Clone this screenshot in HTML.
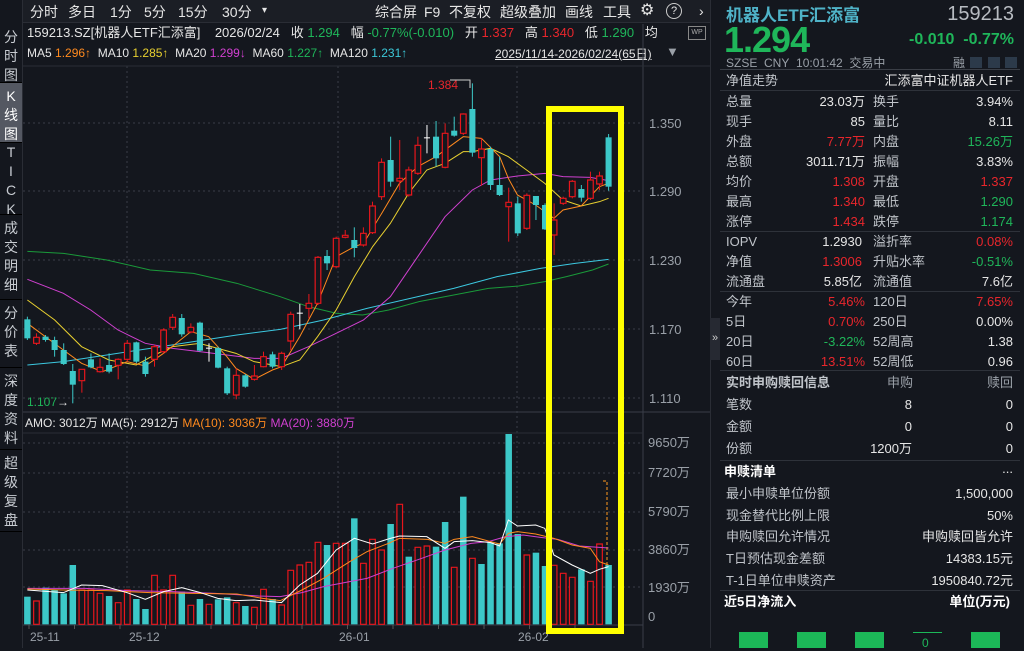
<!DOCTYPE html>
<html><head><meta charset="utf-8"><style>
*{margin:0;padding:0;box-sizing:border-box}
body{width:1024px;height:648px;background:#14171e;overflow:hidden;position:relative;font-family:"Liberation Sans","Noto Sans CJK SC",sans-serif;font-size:13px;line-height:16px;color:#d8d8d8}
.a{position:absolute;white-space:nowrap}
.g{color:#1fb65a}.r{color:#e8262c}.w{color:#e6e6e6}.gr{color:#9aa0a8}
.tab{position:absolute;left:0;width:22px;text-align:center;color:#c8ccd2;font-size:14px;line-height:19px;border-bottom:1px solid #000}
.rp .l{position:absolute;left:726px;color:#c0c4ca}
.rp .v{position:absolute;right:159px;text-align:right}
.rp .l2{position:absolute;left:873px;color:#c0c4ca}
.rp .v2{position:absolute;right:11px;text-align:right}
.hr{position:absolute;left:720px;width:300px;height:1px;background:#2e323a}
</style></head><body>
<div class="a" style="left:22px;top:0;width:688px;height:23px;background:#1b1e25;border-bottom:1px solid #2a2d35"></div>
<div class="a w" style="top:4px;left:30px;font-size:14px">分时</div>
<div class="a w" style="top:4px;left:68px;font-size:14px">多日</div>
<div class="a w" style="top:4px;left:110px;font-size:14px">1分</div>
<div class="a w" style="top:4px;left:144px;font-size:14px">5分</div>
<div class="a w" style="top:4px;left:178px;font-size:14px">15分</div>
<div class="a w" style="top:4px;left:222px;font-size:14px">30分</div>
<div class="a w" style="top:3px;left:262px;font-size:10px">▾</div>
<div class="a w" style="top:4px;left:375px;font-size:14px">综合屏</div>
<div class="a w" style="top:4px;left:424px;font-size:14px">F9</div>
<div class="a w" style="top:4px;left:449px;font-size:14px">不复权</div>
<div class="a w" style="top:4px;left:500px;font-size:14px">超级叠加</div>
<div class="a w" style="top:4px;left:565px;font-size:14px">画线</div>
<div class="a w" style="top:4px;left:603px;font-size:14px">工具</div>
<div class="a w" style="top:3px;left:640px;font-size:16px">⚙</div>
<div class="a w" style="top:3px;left:666px;width:16px;height:16px;border:1px solid #ccc;border-radius:50%;font-size:11px;text-align:center;line-height:14px">?</div>
<div class="a w" style="top:3px;left:699px;font-size:14px">›</div>
<div class="a" style="left:22px;top:0;width:1px;height:648px;background:#2a2d35"></div>
<div class="tab" style="top:24px;height:59px;padding-top:4px">分<br>时<br>图</div>
<div class="tab" style="top:83px;height:60px;background:#545862;padding-top:4px;color:#fff">K<br>线<br>图</div>
<div class="tab" style="top:143px;height:72px;padding-top:0">T<br>I<br>C<br>K</div>
<div class="tab" style="top:215px;height:85px;padding-top:4px">成<br>交<br>明<br>细</div>
<div class="tab" style="top:300px;height:68px;padding-top:4px">分<br>价<br>表</div>
<div class="tab" style="top:368px;height:82px;padding-top:4px">深<br>度<br>资<br>料</div>
<div class="tab" style="top:450px;height:82px;padding-top:4px">超<br>级<br>复<br>盘</div>
<div class="a w" style="top:25px;left:27px">159213.SZ[机器人ETF汇添富]&nbsp;&nbsp;&nbsp;&nbsp;2026/02/24&nbsp;&nbsp;&nbsp;收 <span class="g">1.294</span>&nbsp;&nbsp;&nbsp;幅 <span class="g">-0.77%(-0.010)</span>&nbsp;&nbsp;&nbsp;开 <span class="r">1.337</span>&nbsp;&nbsp;&nbsp;高 <span class="r">1.340</span>&nbsp;&nbsp;&nbsp;低 <span class="g">1.290</span>&nbsp;&nbsp;&nbsp;均</div>
<div class="a" style="top:45px;left:27px;font-size:12px;color:#e6e6e6">MA5 <span style="color:#ff8a1e">1.296↑</span>&nbsp; MA10 <span style="color:#e8d030">1.285↑</span>&nbsp; MA20 <span style="color:#d040d0">1.299↓</span>&nbsp; MA60 <span style="color:#1fb65a">1.227↑</span>&nbsp; MA120 <span style="color:#3cc8d8">1.231↑</span></div>
<div class="a w" style="top:46px;left:495px;font-size:12px;text-decoration:underline">2025/11/14-2026/02/24(65日)</div>
<div class="a gr" style="top:44px;left:666px;font-size:13px">▼</div>
<div class="a" style="top:26px;left:688px;width:18px;height:14px;border:1px solid #888;font-size:7px;line-height:12px;color:#aaa;text-align:center">WP</div>
<div class="a gr" style="top:116px;left:649px">1.350</div>
<div class="a gr" style="top:184px;left:649px">1.290</div>
<div class="a gr" style="top:253px;left:649px">1.230</div>
<div class="a gr" style="top:322px;left:649px">1.170</div>
<div class="a gr" style="top:391px;left:649px">1.110</div>
<div class="a gr" style="top:435px;left:648px">9650万</div>
<div class="a gr" style="top:465px;left:648px">7720万</div>
<div class="a gr" style="top:504px;left:648px">5790万</div>
<div class="a gr" style="top:542px;left:648px">3860万</div>
<div class="a gr" style="top:580px;left:648px">1930万</div>
<div class="a gr" style="top:609px;left:648px">0</div>
<div class="a gr" style="top:629px;left:30px;font-size:12px">25-11</div>
<div class="a gr" style="top:629px;left:129px;font-size:12px">25-12</div>
<div class="a gr" style="top:629px;left:339px;font-size:12px">26-01</div>
<div class="a gr" style="top:629px;left:518px;font-size:12px">26-02</div>
<div class="a r" style="top:77px;left:428px;font-size:12px">1.384</div>
<div class="a g" style="top:394px;left:27px;font-size:12px">1.107<span class="w">→</span></div>
<div class="a w" style="top:415px;left:25px;font-size:12px">AMO: 3012万 MA(5): 2912万 <span style="color:#ff8a1e">MA(10): 3036万</span> <span style="color:#d040d0">MA(20): 3880万</span></div>

<svg id="s" class="a" style="left:0;top:0" width="1024" height="648"></svg>

<div class="a" style="left:710px;top:0;width:1px;height:648px;background:#2a2d35"></div>
<div class="a" style="left:710px;top:318px;width:10px;height:42px;background:#262932;color:#ccc;font-size:11px;text-align:center;line-height:40px">»</div>
<div class="rp">
<div class="a" style="left:726px;top:6px;font-size:17px;line-height:20px;font-weight:bold;color:#4fb3c8">机器人ETF汇添富</div>
<div class="a" style="right:10px;top:3px;font-size:20px;line-height:22px;color:#b8bcc2">159213</div>
<div class="a g" style="left:724px;top:20px;font-size:36px;line-height:40px;font-weight:bold;letter-spacing:-1px">1.294</div>
<div class="a g" style="right:10px;top:30px;font-size:16px;line-height:20px;font-weight:bold">-0.010&nbsp;&nbsp;-0.77%</div>
<div class="a gr" style="left:726px;top:55px;font-size:12px">SZSE&nbsp;&nbsp;CNY&nbsp;&nbsp;10:01:42&nbsp;&nbsp;交易中</div>
<div class="a gr" style="left:953px;top:55px;font-size:12px">融</div>
<div class="a" style="left:970px;top:57px;width:12px;height:11px;background:#2c3a4a"></div>
<div class="a" style="left:988px;top:57px;width:12px;height:11px;background:#2c3a4a"></div>
<div class="a" style="left:1005px;top:57px;width:12px;height:11px;background:#2c3a4a"></div>
<div class="hr" style="top:69px;background:#3a3e46"></div>
<div class="l" style="top:73px">净值走势</div><div class="v2" style="top:73px;color:#e6e6e6">汇添富中证机器人ETF</div>
<div class="hr" style="top:90px"></div>
<div class="l" style="top:94px">总量</div><div class="v w" style="top:94px">23.03万</div><div class="l2" style="top:94px">换手</div><div class="v2 w" style="top:94px">3.94%</div>
<div class="l" style="top:114px">现手</div><div class="v w" style="top:114px">85</div><div class="l2" style="top:114px">量比</div><div class="v2 w" style="top:114px">8.11</div>
<div class="l" style="top:134px">外盘</div><div class="v r" style="top:134px">7.77万</div><div class="l2" style="top:134px">内盘</div><div class="v2 g" style="top:134px">15.26万</div>
<div class="l" style="top:154px">总额</div><div class="v w" style="top:154px">3011.71万</div><div class="l2" style="top:154px">振幅</div><div class="v2 w" style="top:154px">3.83%</div>
<div class="l" style="top:174px">均价</div><div class="v r" style="top:174px">1.308</div><div class="l2" style="top:174px">开盘</div><div class="v2 r" style="top:174px">1.337</div>
<div class="l" style="top:194px">最高</div><div class="v r" style="top:194px">1.340</div><div class="l2" style="top:194px">最低</div><div class="v2 g" style="top:194px">1.290</div>
<div class="l" style="top:214px">涨停</div><div class="v r" style="top:214px">1.434</div><div class="l2" style="top:214px">跌停</div><div class="v2 g" style="top:214px">1.174</div>
<div class="hr" style="top:231px"></div>
<div class="l" style="top:234px">IOPV</div><div class="v w" style="top:234px;right:162px">1.2930</div><div class="l2" style="top:234px">溢折率</div><div class="v2 r" style="top:234px">0.08%</div>
<div class="l" style="top:254px">净值</div><div class="v r" style="top:254px;right:162px">1.3006</div><div class="l2" style="top:254px">升贴水率</div><div class="v2 g" style="top:254px">-0.51%</div>
<div class="l" style="top:274px">流通盘</div><div class="v w" style="top:274px;right:162px">5.85亿</div><div class="l2" style="top:274px">流通值</div><div class="v2 w" style="top:274px">7.6亿</div>
<div class="hr" style="top:291px"></div>
<div class="l" style="top:294px">今年</div><div class="v r" style="top:294px">5.46%</div><div class="l2" style="top:294px">120日</div><div class="v2 r" style="top:294px">7.65%</div>
<div class="l" style="top:314px">5日</div><div class="v r" style="top:314px">0.70%</div><div class="l2" style="top:314px">250日</div><div class="v2 w" style="top:314px">0.00%</div>
<div class="l" style="top:334px">20日</div><div class="v g" style="top:334px">-3.22%</div><div class="l2" style="top:334px">52周高</div><div class="v2 w" style="top:334px">1.38</div>
<div class="l" style="top:354px">60日</div><div class="v r" style="top:354px">13.51%</div><div class="l2" style="top:354px">52周低</div><div class="v2 w" style="top:354px">0.96</div>
<div class="hr" style="top:370px"></div>
<div class="l" style="top:375px;font-weight:bold">实时申购赎回信息</div><div class="a gr" style="top:375px;left:887px">申购</div><div class="v2 gr" style="top:375px">赎回</div>
<div class="l" style="top:397px">笔数</div><div class="a w" style="top:397px;right:112px">8</div><div class="v2 w" style="top:397px">0</div>
<div class="l" style="top:419px">金额</div><div class="a w" style="top:419px;right:112px">0</div><div class="v2 w" style="top:419px">0</div>
<div class="l" style="top:441px">份额</div><div class="a w" style="top:441px;right:112px">1200万</div><div class="v2 w" style="top:441px">0</div>
<div class="hr" style="top:460px"></div>
<div class="a" style="left:724px;top:464px;font-weight:bold;color:#fff">申赎清单</div><div class="v2 w" style="top:461px">...</div>
<div class="l" style="top:486px">最小申赎单位份额</div><div class="v2 w" style="top:486px">1,500,000</div>
<div class="l" style="top:508px">现金替代比例上限</div><div class="v2 w" style="top:508px">50%</div>
<div class="l" style="top:529px">申购赎回允许情况</div><div class="v2 w" style="top:529px">申购赎回皆允许</div>
<div class="l" style="top:551px">T日预估现金差额</div><div class="v2 w" style="top:551px">14383.15元</div>
<div class="l" style="top:573px">T-1日单位申赎资产</div><div class="v2 w" style="top:573px">1950840.72元</div>
<div class="hr" style="top:590px"></div>
<div class="a" style="left:724px;top:594px;font-weight:bold;color:#fff">近5日净流入</div><div class="a" style="right:14px;top:594px;font-weight:bold;color:#fff">单位(万元)</div>
<div class="a" style="left:739px;top:632px;width:29px;height:16px;background:#1cb858"></div>
<div class="a" style="left:797px;top:632px;width:29px;height:16px;background:#1cb858"></div>
<div class="a" style="left:855px;top:632px;width:29px;height:16px;background:#1cb858"></div>
<div class="a" style="left:913px;top:632px;width:29px;height:1px;background:#1cb858"></div>
<div class="a g" style="left:922px;top:635px;font-size:12px">0</div>
<div class="a" style="left:971px;top:632px;width:29px;height:16px;background:#1cb858"></div>
</div>

<script>
var NS="http://www.w3.org/2000/svg",S=document.getElementById('s');
function el(t,a,p){var e=document.createElementNS(NS,t);for(var k in a)e.setAttribute(k,a[k]);(p||S).appendChild(e);return e}
[123,191,260,329,398].forEach(function(y){el('line',{x1:23,x2:643,y1:y,y2:y,stroke:'#3a3e48','stroke-dasharray':'2,3'})});
[443,473,512,550,587].forEach(function(y){el('line',{x1:23,x2:643,y1:y,y2:y,stroke:'#3a3e48','stroke-dasharray':'2,3'})});
[127,338,517].forEach(function(x){el('line',{x1:x,x2:x,y1:66,y2:624,stroke:'#3a3e48','stroke-dasharray':'2,3'})});
el('line',{x1:643,x2:643,y1:24,y2:648,stroke:'#3a3e48'});
el('line',{x1:23,x2:710,y1:412,y2:412,stroke:'#3a3e48'});
el('line',{x1:23,x2:643,y1:433,y2:433,stroke:'#2a2d35'});
el('line',{x1:23,x2:643,y1:625,y2:625,stroke:'#3a3e48'});
el('line',{x1:23,x2:710,y1:66,y2:66,stroke:'#2a2d35'});
for(var i=0;i<14;i++){var x=29+i*45.5;el('line',{x1:x,x2:x,y1:625,y2:629,stroke:'#555'})}
var R='#e8161c',C='#3cc8c8';
var g1=el('g',{transform:'translate(20,90) scale(0.4337,0.33333)'});
function X(i){return 17+i*20.94}
var K=[['c',688,745,680,750],['r',742,760,730,765],['c',740,750,735,755],['c',750,780,740,800],['c',780,822,760,825],['c',843,884,822,940],['r',838,872,838,908],['c',808,832,790,835],['r',832,845,805,848],['c',825,845,790,850],['r',808,826,805,868],['r',760,808,750,815],['c',757,815,755,820],['c',815,852,800,860],['r',770,808,765,830],['r',720,785,715,790],['r',682,712,672,720],['c',684,733,672,740],['r',712,726,700,730],['c',698,782,695,785],['w',773,775,760,815],['c',774,833,770,835],['c',835,910,830,915],['r',856,915,835,928],['c',856,890,852,893],['r',858,868,825,872],['r',800,830,785,832],['c',793,830,785,835],['r',790,830,785,840],['r',673,753,665,780],['w',668,670,642,718],['r',640,655,612,685],['r',502,640,498,645],['c',498,520,480,540],['r',445,530,440,535],['r',436,442,420,445],['c',450,474,412,502],['r',430,465,412,470],['r',348,428,335,432],['r',217,320,205,330],['c',210,275,140,290],['r',265,273,150,300],['r',240,315,230,320],['r',166,250,140,255],['w',142,144,105,190],['c',140,205,93,230],['r',130,232,100,235],['c',122,137,80,140],['r',72,130,70,135],['c',57,188,-20,200],['r',177,203,145,287],['c',177,285,170,300],['c',285,315,200,318],['r',337,350,293,455],['c',340,430,320,438],['r',316,415,310,420],['c',318,345,318,390],['c',345,418,340,420],['r',390,435,340,495],['r',325,340,320,345],['r',274,320,270,325],['c',297,323,285,335],['r',270,325,245,330],['r',258,282,245,300],['c',142,290,132,302]];
function lines(g,pts,col){el('polyline',{points:pts.map(function(p){return p.join(',')}).join(' '),fill:'none',stroke:col,'stroke-width':1,'vector-effect':'non-scaling-stroke'},g)}
lines(g1,[[17,484],[100,490],[200,510],[300,540],[400,550],[500,580],[600,620],[665,650],[730,670],[790,675],[850,660],[920,635],[1000,615],[1080,595],[1150,588],[1210,575],[1260,560],[1320,540],[1357,522]],'#1a9a3a');
lines(g1,[[17,825],[100,815],[200,795],[300,775],[400,755],[500,735],[600,718],[700,690],[800,655],[900,625],[1000,595],[1100,560],[1200,535],[1280,520],[1357,508]],'#3cc8e0');
lines(g1,[[17,568],[100,610],[163,660],[226,720],[289,760],[352,775],[414,785],[477,795],[540,805],[603,805],[665,770],[729,730],[792,690],[854,620],[917,500],[980,380],[1043,300],[1085,270],[1147,258],[1210,250],[1252,260],[1315,262],[1357,272]],'#d040d0');
lines(g1,[[17,630],[80,690],[142,770],[205,810],[268,825],[310,795],[352,770],[414,760],[456,775],[498,790],[540,815],[603,830],[645,810],[686,740],[729,660],[771,560],[813,470],[854,400],[896,310],[938,240],[980,220],[1022,185],[1043,185],[1085,175],[1126,200],[1168,240],[1210,280],[1252,330],[1294,348],[1336,335],[1357,325]],'#e8d030');
lines(g1,[[17,700],[100,780],[142,820],[190,845],[247,815],[289,828],[331,790],[394,725],[435,740],[477,800],[498,835],[540,868],[582,840],[603,830],[645,740],[686,640],[729,500],[771,470],[792,460],[834,370],[875,280],[917,230],[959,200],[1001,160],[1022,140],[1064,145],[1106,200],[1126,265],[1147,315],[1189,345],[1231,385],[1252,360],[1294,348],[1336,290],[1357,280]],'#ff8a1e');
K.forEach(function(k,i){var x=X(i),col=k[0]=='r'?R:(k[0]=='c'?C:'#fff');
 if(k[0]=='r'){el('line',{x1:x,x2:x,y1:k[3],y2:k[1],stroke:col,'vector-effect':'non-scaling-stroke'},g1);el('line',{x1:x,x2:x,y1:k[2],y2:k[4],stroke:col,'vector-effect':'non-scaling-stroke'},g1);
  el('rect',{x:x-6.5,y:k[1],width:13,height:k[2]-k[1],fill:'#14171e',stroke:col,'stroke-width':1.2,'vector-effect':'non-scaling-stroke'},g1)}
 else{el('line',{x1:x,x2:x,y1:k[3],y2:k[4],stroke:col,'vector-effect':'non-scaling-stroke'},g1);
  el('rect',{x:x-7,y:k[1],width:14,height:Math.max(k[2]-k[1],3),fill:col},g1)}
});
el('polyline',{points:'450,80 470,80 470,88',fill:'none',stroke:'#ccc'});
var g2=el('g',{transform:'translate(20,410) scale(0.4337,0.33333)'});
var V=[['c',560],['r',573],['c',533],['c',540],['c',550],['c',465],['r',540],['r',540],['r',550],['c',558],['r',578],['r',540],['c',567],['c',597],['r',496],['r',540],['r',496],['c',545],['r',586],['c',567],['r',583],['c',568],['c',562],['r',578],['c',588],['r',592],['r',538],['c',567],['r',585],['r',481],['r',465],['r',457],['r',397],['c',405],['r',400],['r',400],['c',325],['r',460],['r',388],['r',420],['c',342],['r',283],['c',440],['r',412],['r',408],['c',410],['c',336],['r',472],['c',260],['r',445],['c',462],['c',396],['c',400],['c',72],['c',372],['r',435],['c',428],['c',468],['r',466],['r',490],['r',502],['c',478],['r',514],['r',402],['c',465]];
V.forEach(function(v,i){var x=X(i);if(v[0]=='r')el('rect',{x:x-6.5,y:v[1],width:13,height:643-v[1],fill:'#14171e',stroke:R,'stroke-width':1.2,'vector-effect':'non-scaling-stroke'},g2);else el('rect',{x:x-7.5,y:v[1],width:15,height:643-v[1],fill:C},g2)});
lines(g2,[[17,535],[150,535],[250,542],[350,545],[450,550],[550,558],[600,560],[650,548],[700,530],[760,515],[800,505],[860,475],[920,448],[980,420],[1040,400],[1080,395],[1120,380],[1160,375],[1200,382],[1240,388],[1290,408],[1357,414]],'#d040d0');
lines(g2,[[17,537],[100,540],[200,542],[300,548],[400,550],[500,552],[560,565],[600,572],[650,540],[700,505],[760,455],[800,425],[850,400],[875,385],[940,388],[980,400],[1001,388],[1043,380],[1085,395],[1106,402],[1126,370],[1147,365],[1189,372],[1231,385],[1273,405],[1315,415],[1336,455],[1357,465]],'#ff8a1e');
lines(g2,[[17,540],[100,548],[142,525],[190,527],[247,548],[289,568],[331,545],[373,533],[414,547],[456,565],[498,572],[540,570],[603,578],[645,525],[686,490],[729,420],[771,385],[813,402],[854,385],[875,378],[938,380],[980,415],[1001,395],[1043,392],[1085,398],[1106,408],[1126,330],[1147,348],[1189,345],[1210,355],[1231,435],[1273,465],[1315,490],[1336,478],[1357,470]],'#ffffff');
el('polyline',{points:'603,481 607,481 607,566',fill:'none',stroke:'#ff9a1e','stroke-dasharray':'3,2'});
el('rect',{x:549,y:109,width:72,height:522,fill:'none',stroke:'#ffff00','stroke-width':6});
</script>
</body></html>
